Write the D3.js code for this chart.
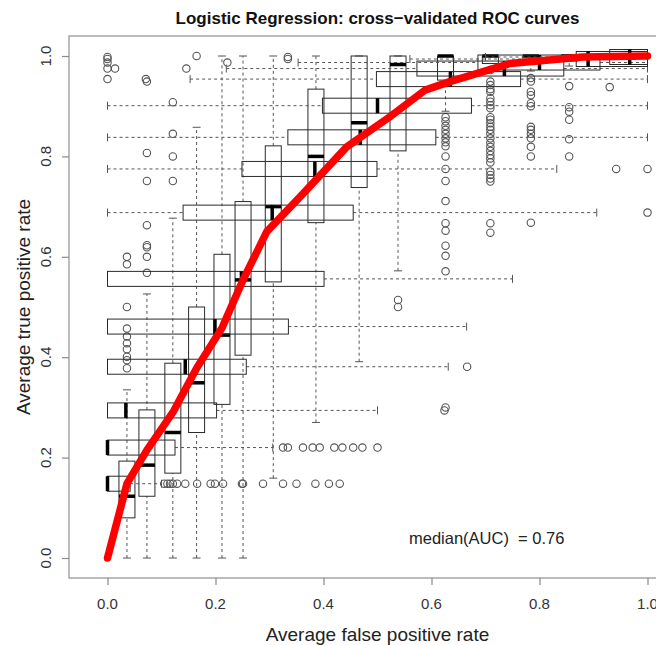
<!DOCTYPE html>
<html><head><meta charset="utf-8">
<script src="https://cdn.jsdelivr.net/npm/d3@7"></script>
<style>
body{margin:0;background:#fff}
svg{display:block}
text{font-family:"Liberation Sans",Arial,sans-serif}
</style>
</head><body>
<svg id="chart" width="656" height="645"></svg>
<script>
// Averaged ROC curve (threshold averaging over the cross-validation folds)
const avgFPR = [0, 0.036, 0.073, 0.121, 0.165, 0.212, 0.251, 0.295, 0.357, 0.443, 0.523, 0.588, 0.634, 0.745, 0.880, 1.0];
const avgTPR = [0, 0.148, 0.215, 0.290, 0.378, 0.458, 0.554, 0.650, 0.720, 0.819, 0.879, 0.932, 0.949, 0.985, 0.998, 1.0];

// Where each cutoff's pair of boxplots sits: TPR boxes at boxAtFPR, FPR boxes at boxAtTPR
const boxAtFPR = [0.036, 0.073, 0.121, 0.165, 0.212, 0.251, 0.307, 0.386, 0.466, 0.538, 0.626, 0.709, 0.784, 0.855, 0.930];
const boxAtTPR = [0.148, 0.220, 0.294, 0.381, 0.461, 0.556, 0.688, 0.775, 0.838, 0.901, 0.954, 0.975, 0.987, 0.994, 0.998];

// True positive rate across folds: [whiskerLow, q1, median, q3, whiskerHigh]
const tprBox = [
  [0, 0.080, 0.123, 0.193, 0.335],
  [0, 0.123, 0.185, 0.295, 0.526],
  [0, 0.169, 0.250, 0.388, 0.677],
  [0, 0.250, 0.349, 0.500, 0.858],
  [0, 0.306, 0.444, 0.605, 1.0],
  [0, 0.404, 0.554, 0.710, 1.0],
  [0.159, 0.550, 0.700, 0.821, 1.0],
  [0.270, 0.668, 0.800, 0.934, 1.0],
  [0.391, 0.738, 0.867, 1.0, 1.0],
  [0.572, 0.811, 0.983, 1.0, 1.0],
  [0.890, 0.952, 1.0, 1.0, 1.0],
  [0.975, 0.985, 1.0, 1.0, 1.0],
  [0.970, 0.985, 1.0, 1.0, 1.0],
  [0.980, 0.990, 1.0, 1.0, 1.0],
  [1.0, 1.0, 1.0, 1.0, 1.0]
];
const tprOutliers = [
  [0.378, 0.394, 0.401, 0.416, 0.428, 0.441, 0.457, 0.50, 0.585, 0.60],
  [0.568, 0.60, 0.619, 0.623, 0.663, 0.751, 0.807, 0.949],
  [0.751, 0.80, 0.845, 0.908],
  [1.0],
  [], [], [], [], [],
  [0.50, 0.514],
  [0.30, 0.571, 0.602, 0.622, 0.652, 0.667, 0.711, 0.751, 0.775, 0.80, 0.82, 0.828, 0.836, 0.845, 0.853, 0.861, 0.87, 0.878],
  [0.648, 0.667, 0.75, 0.756, 0.763, 0.770, 0.788, 0.796, 0.803, 0.811, 0.819, 0.827, 0.836, 0.845, 0.853, 0.859, 0.866, 0.873, 0.878, 0.896, 0.902, 0.909, 0.916, 0.929, 0.934, 0.942, 0.949, 0.972],
  [0.668, 0.80, 0.819, 0.836, 0.845, 0.853, 0.859, 0.90, 0.906, 0.922, 0.929, 0.949, 0.956],
  [0.80, 0.834, 0.873, 0.889, 0.898, 0.94],
  [0.938]
];

// False positive rate across folds: [whiskerLow, q1, median, q3, whiskerHigh]
const fprBox = [
  [0, 0, 0, 0.042, 0.100],
  [0, 0, 0, 0.125, 0.306],
  [0, 0, 0.034, 0.202, 0.500],
  [0, 0, 0.144, 0.257, 0.631],
  [0, 0, 0.199, 0.335, 0.665],
  [0, 0, 0.248, 0.401, 0.750],
  [0, 0.140, 0.305, 0.455, 0.906],
  [0, 0.249, 0.384, 0.499, 0.832],
  [0, 0.334, 0.468, 0.608, 1.0],
  [0, 0.398, 0.500, 0.674, 1.0],
  [0.153, 0.498, 0.635, 0.765, 1.0],
  [0.220, 0.573, 0.735, 0.845, 1.0],
  [0.353, 0.686, 0.800, 0.912, 1.0],
  [0.560, 0.868, 0.890, 1.0, 1.0],
  [0.700, 0.930, 0.967, 1.0, 1.0]
];
const fprOutliers = [
  [0.105, 0.111, 0.116, 0.121, 0.129, 0.144, 0.166, 0.191, 0.199, 0.214, 0.249, 0.251, 0.288, 0.325, 0.35, 0.385, 0.41, 0.43],
  [0.325, 0.334, 0.362, 0.38, 0.393, 0.42, 0.435, 0.455, 0.472, 0.50],
  [0.624],
  [0.666],
  [], [],
  [1.0],
  [0.942, 1.0],
  [], [],
  [0, 0.071],
  [0, 0.014, 0.146],
  [0, 0.222],
  [0, 0.334],
  [0, 0.334]
];

const xTicks = [0, 0.2, 0.4, 0.6, 0.8, 1.0];
const yTicks = [0, 0.2, 0.4, 0.6, 0.8, 1.0];
const titleText = "Logistic Regression: cross\u2212validated ROC curves";
const xTitle = "Average false positive rate";
const yTitle = "Average true positive rate";
const aucText = "median(AUC)  = 0.76";

const svg = d3.select("#chart");
const x = d3.scaleLinear().domain([0, 1]).range([107.5, 647.5]);
const y = d3.scaleLinear().domain([0, 1]).range([558, 56]);
const frame = {left: 69, top: 36, right: 686, bottom: 578};
const fmt = d3.format(".1f");

// plot frame
svg.append("rect")
  .attr("x", frame.left).attr("y", frame.top)
  .attr("width", frame.right - frame.left).attr("height", frame.bottom - frame.top)
  .attr("fill", "none").attr("stroke", "#a0a0a0").attr("stroke-width", 1.4);

// axes: tick marks from d3, labels set below
const xAxis = svg.append("g").attr("transform", `translate(0,${frame.bottom})`)
  .call(d3.axisBottom(x).tickValues(xTicks).tickFormat("").tickSize(7));
const yAxis = svg.append("g").attr("transform", `translate(${frame.left},0)`)
  .call(d3.axisLeft(y).tickValues(yTicks).tickFormat("").tickSize(7));
[xAxis, yAxis].forEach(g => {
  g.select(".domain").remove();
  g.selectAll("line").attr("stroke", "#8a8a8a").attr("stroke-width", 1.2);
});
svg.append("g").selectAll("text").data(xTicks).join("text")
  .attr("x", d => x(d)).attr("y", 608.5).attr("text-anchor", "middle")
  .attr("font-size", 15).attr("fill", "#333").text(fmt);
svg.append("g").selectAll("text").data(yTicks).join("text")
  .attr("transform", d => `translate(50.5,${y(d)}) rotate(-90)`).attr("text-anchor", "middle")
  .attr("font-size", 15).attr("fill", "#333").text(fmt);

const plot = svg.append("g");
const boxStroke = "#2a2a2a";
const whiskerStroke = "#555";
const outStroke = "#555";
const halfW = 8;   // half box width in px
const capW = 4;    // half staple width in px

function verticalBox(cx, s, outs) {
  const g = plot.append("g");
  const X = x(cx);
  g.append("line").attr("x1", X).attr("x2", X).attr("y1", y(s[0])).attr("y2", y(s[1]))
    .attr("stroke", whiskerStroke).attr("stroke-dasharray", "3,3");
  g.append("line").attr("x1", X).attr("x2", X).attr("y1", y(s[3])).attr("y2", y(s[4]))
    .attr("stroke", whiskerStroke).attr("stroke-dasharray", "3,3");
  [s[0], s[4]].forEach(v => g.append("line")
    .attr("x1", X - capW).attr("x2", X + capW).attr("y1", y(v)).attr("y2", y(v))
    .attr("stroke", whiskerStroke));
  g.append("rect").attr("x", X - halfW).attr("width", 2 * halfW)
    .attr("y", y(s[3])).attr("height", Math.max(0, y(s[1]) - y(s[3])))
    .attr("fill", "none").attr("stroke", boxStroke).attr("stroke-width", 1);
  g.append("line").attr("x1", X - halfW).attr("x2", X + halfW).attr("y1", y(s[2])).attr("y2", y(s[2]))
    .attr("stroke", "#000").attr("stroke-width", 3.5);
  outs.forEach(v => g.append("circle").attr("cx", X).attr("cy", y(v)).attr("r", 3.7)
    .attr("fill", "none").attr("stroke", outStroke).attr("stroke-width", 1.1));
}

function horizontalBox(cy, s, outs) {
  const g = plot.append("g");
  const Y = y(cy);
  g.append("line").attr("y1", Y).attr("y2", Y).attr("x1", x(s[0])).attr("x2", x(s[1]))
    .attr("stroke", whiskerStroke).attr("stroke-dasharray", "3,3");
  g.append("line").attr("y1", Y).attr("y2", Y).attr("x1", x(s[3])).attr("x2", x(s[4]))
    .attr("stroke", whiskerStroke).attr("stroke-dasharray", "3,3");
  [s[0], s[4]].forEach(v => g.append("line")
    .attr("y1", Y - capW).attr("y2", Y + capW).attr("x1", x(v)).attr("x2", x(v))
    .attr("stroke", whiskerStroke));
  g.append("rect").attr("y", Y - halfW + 0.5).attr("height", 2 * halfW - 1)
    .attr("x", x(s[1])).attr("width", Math.max(0, x(s[3]) - x(s[1])))
    .attr("fill", "none").attr("stroke", boxStroke).attr("stroke-width", 1);
  g.append("line").attr("y1", Y - halfW + 0.5).attr("y2", Y + halfW - 0.5).attr("x1", x(s[2])).attr("x2", x(s[2]))
    .attr("stroke", "#000").attr("stroke-width", 3.5);
  outs.forEach(v => g.append("circle").attr("cx", x(v)).attr("cy", Y).attr("r", 3.7)
    .attr("fill", "none").attr("stroke", outStroke).attr("stroke-width", 1.1));
}

boxAtFPR.forEach((mx, i) => verticalBox(mx, tprBox[i], tprOutliers[i]));
boxAtTPR.forEach((my, i) => horizontalBox(my, fprBox[i], fprOutliers[i]));

// average curve on top
const line = d3.line().x(d => x(d[0])).y(d => y(d[1]));
svg.append("path")
  .datum(avgFPR.map((v, i) => [v, avgTPR[i]]))
  .attr("d", line)
  .attr("fill", "none").attr("stroke", "#ff0000").attr("stroke-width", 7.5)
  .attr("stroke-linejoin", "round").attr("stroke-linecap", "round");

// titles and annotation
svg.append("text").attr("x", 377.5).attr("y", 24).attr("text-anchor", "middle")
  .attr("font-weight", "bold").attr("font-size", 17).attr("fill", "#111").text(titleText);
svg.append("text").attr("x", 377.5).attr("y", 641).attr("text-anchor", "middle")
  .attr("font-size", 19).attr("fill", "#222").text(xTitle);
svg.append("text").attr("transform", `translate(30,${(frame.top + frame.bottom) / 2}) rotate(-90)`)
  .attr("text-anchor", "middle").attr("font-size", 19).attr("fill", "#222").text(yTitle);
svg.append("text").attr("x", 409).attr("y", 544).style("white-space", "pre")
  .attr("font-size", 16.5).attr("fill", "#222").text(aucText);
</script>
</body></html>
